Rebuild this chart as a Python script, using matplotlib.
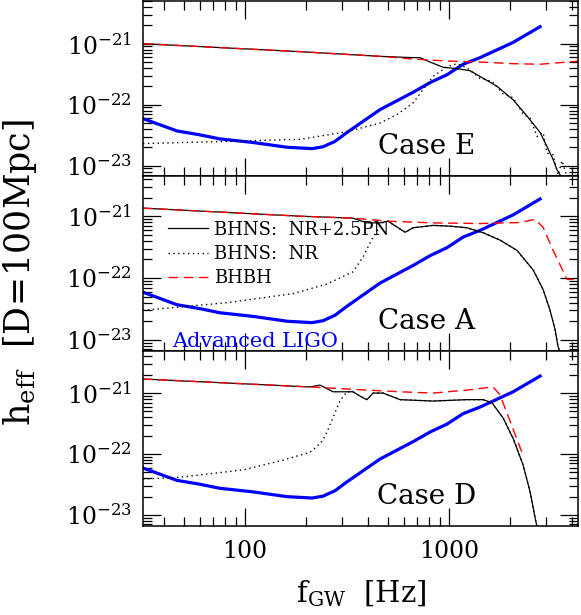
import numpy as np
import matplotlib
matplotlib.use("Agg")
import matplotlib.pyplot as plt
from matplotlib.ticker import LogLocator, FixedLocator, FuncFormatter, NullFormatter

# ==================== DATA ====================

# Advanced LIGO sensitivity, same in every panel
ligo_f = [31.6, 46.4, 60, 75, 109, 161, 213, 241, 276, 316, 459, 667, 807, 977, 1172, 1419, 2061, 2793]
ligo_h = [5.9e-23, 3.7e-23, 3.2e-23, 2.75e-23, 2.4e-23, 2.0e-23, 1.9e-23, 2.04e-23, 2.5e-23, 3.5e-23,
          8.3e-23, 1.6e-22, 2.3e-22, 3.1e-22, 4.6e-22, 5.9e-22, 1.05e-21, 1.9e-21]

# Case E
e_pn_f = [31.6, 186, 459, 667, 721, 807, 935, 1094, 1268, 1419, 1718, 2061, 2411, 2793, 3022, 3236, 3383, 3578]
e_pn_h = [1.0e-21, 7.4e-22, 6.2e-22, 5.9e-22, 5.9e-22, 5.0e-22, 4.1e-22, 3.9e-22, 3.6e-22, 2.9e-22,
          2.0e-22, 1.2e-22, 6.5e-23, 3.5e-23, 2.04e-23, 1.26e-23, 8.5e-24, 6.3e-24]
e_nr_f = [31.6, 186, 316, 459, 556, 667, 746, 835, 977, 1094, 1225, 1419, 1625, 1840, 2061, 2306,
          2495, 2700, 2891, 3022, 3236, 3420, 3578, 3787]
e_nr_h = [2.3e-23, 2.7e-23, 3.6e-23, 5.0e-23, 6.9e-23, 1.07e-22, 1.78e-22, 2.9e-22, 4.2e-22, 4.7e-22,
          4.0e-22, 2.7e-22, 2.4e-22, 1.5e-22, 1.3e-22, 7.0e-23, 6.0e-23, 3.0e-23, 3.5e-23, 1.6e-23,
          1.5e-23, 7.0e-24, 1.2e-23, 6.5e-24]
e_bh_f = [31.6, 186, 459, 667, 807, 977, 1419, 2061, 2793, 4385]
e_bh_h = [1.0e-21, 7.4e-22, 6.2e-22, 5.6e-22, 5.4e-22, 5.2e-22, 5.0e-22, 4.7e-22, 4.6e-22, 5.2e-22]

# Case A
a_pn_f = [31.6, 186, 338, 396, 459, 502, 609, 667, 835, 1012, 1225, 1468, 1778, 2153, 2583, 2891,
          3126, 3311, 3420, 3499]
a_pn_h = [1.35e-21, 1.0e-21, 9.3e-22, 7.8e-22, 7.8e-22, 8.3e-22, 5.5e-22, 6.5e-22, 7.1e-22, 6.9e-22,
          6.5e-22, 5.4e-22, 4.1e-22, 2.8e-22, 1.35e-22, 6.5e-23, 3.0e-23, 1.45e-23, 7.8e-24, 6.3e-24]
a_nr_f = [31.6, 82, 172, 252, 338, 379, 424, 470, 502, 609, 667, 835, 1012, 1225, 1468, 1778, 2153,
          2583, 2891, 3126, 3311, 3420, 3499]
a_nr_h = [3.0e-23, 4.0e-23, 5.6e-23, 8.0e-23, 1.26e-22, 2.2e-22, 4.6e-22, 7.8e-22, 8.3e-22, 5.5e-22,
          6.5e-22, 7.1e-22, 6.9e-22, 6.5e-22, 5.4e-22, 4.1e-22, 2.8e-22, 1.35e-22, 6.5e-23, 3.0e-23,
          1.45e-23, 7.8e-24, 6.3e-24]
a_bh_f = [31.6, 186, 338, 502, 835, 1419, 2228, 2642, 2891, 3236, 3787, 4285]
a_bh_h = [1.35e-21, 1.0e-21, 9.3e-22, 8.3e-22, 7.8e-22, 7.6e-22, 7.9e-22, 8.9e-22, 6.6e-22, 2.8e-22,
          9.5e-23, 9.5e-23]

# Case D
d_pn_f = [31.6, 208, 233, 270, 338, 375, 396, 424, 475, 575, 835, 1225, 1468, 1625, 1840, 2061,
          2306, 2495, 2642, 2700]
d_pn_h = [1.7e-21, 1.26e-21, 1.35e-21, 1.05e-21, 1.05e-21, 8.5e-22, 7.8e-22, 1.0e-21, 1.0e-21,
          7.8e-22, 7.4e-22, 7.8e-22, 7.8e-22, 6.9e-22, 3.9e-22, 1.8e-22, 6.6e-23, 2.4e-23, 8.9e-24, 6.3e-24]
d_nr_f = [31.6, 46, 98, 153, 208, 223, 241, 252, 270, 292, 316, 338, 375, 396, 424, 475, 575, 835,
          1225, 1468, 1625, 1840, 2061, 2306, 2495, 2642, 2700]
d_nr_h = [3.9e-23, 4.1e-23, 5.5e-23, 7.9e-23, 1.07e-22, 1.29e-22, 1.7e-22, 2.3e-22, 4.0e-22, 7.5e-22,
          1.05e-21, 1.05e-21, 8.5e-22, 7.8e-22, 1.0e-21, 1.0e-21, 7.8e-22, 7.4e-22, 7.8e-22, 7.8e-22,
          6.9e-22, 3.9e-22, 1.8e-22, 6.6e-23, 2.4e-23, 8.9e-24, 6.3e-24]
d_bh_f = [31.6, 208, 396, 575, 835, 1225, 1644, 1778, 2306]
d_bh_h = [1.7e-21, 1.26e-21, 1.12e-21, 1.05e-21, 1.0e-21, 1.12e-21, 1.26e-21, 9.3e-22, 9.5e-23]

case_names = ["Case E", "Case A", "Case D"]
legend_labels = ["BHNS:  NR+2.5PN", "BHNS:  NR", "BHBH"]
y_major = [1e-23, 1e-22, 1e-21]
x_major = [100, 1000]

# ==================== STYLE ====================

plt.rcParams['font.family'] = ['DejaVu Serif']
plt.rcParams['mathtext.fontset'] = 'dejavuserif'

XLIM = (31.6, 4285)
YLIMS = [(10**-23.17, 10**-20.30), (10**-23.18, 10**-20.35), (10**-23.18, 10**-20.31)]
BLUE = '#0000ff'


def style_axis(ax, ylim, show_xlabels):
    ax.set_xscale('log')
    ax.set_yscale('log')
    ax.set_xlim(*XLIM)
    ax.set_ylim(*ylim)
    for sp in ax.spines.values():
        sp.set_linewidth(1.1)
    ax.tick_params(which='both', direction='in', top=True, right=True, width=0.9)
    ax.tick_params(which='major', length=13, labelsize=17, pad=8)
    ax.tick_params(which='minor', length=6.5)
    ax.xaxis.set_major_locator(FixedLocator(x_major))
    ax.xaxis.set_minor_locator(LogLocator(base=10, subs=np.arange(2, 10), numticks=20))
    ax.yaxis.set_major_locator(FixedLocator(y_major))
    ax.yaxis.set_minor_locator(LogLocator(base=10, subs=np.arange(2, 10), numticks=20))
    ax.yaxis.set_major_formatter(FuncFormatter(lambda v, p: r'$10^{%d}$' % round(np.log10(v))))
    ax.yaxis.set_minor_formatter(NullFormatter())
    ax.xaxis.set_minor_formatter(NullFormatter())
    if show_xlabels:
        ax.xaxis.set_major_formatter(FuncFormatter(lambda v, p: '%d' % round(v)))
        ax.tick_params(axis='x', which='major', pad=10)
    else:
        ax.xaxis.set_major_formatter(NullFormatter())


# ==================== PLOT ====================

W, H = 581, 615
fig = plt.figure(figsize=(W / 100, H / 100), dpi=100)

left = 143 / W
width = 435 / W
panel_px = [(1, 176), (176, 351), (351, 526)]

panels = [
    (e_pn_f, e_pn_h, e_nr_f, e_nr_h, e_bh_f, e_bh_h),
    (a_pn_f, a_pn_h, a_nr_f, a_nr_h, a_bh_f, a_bh_h),
    (d_pn_f, d_pn_h, d_nr_f, d_nr_h, d_bh_f, d_bh_h),
]

for i, (top_px, bot_px) in enumerate(panel_px):
    ax = fig.add_axes([left, 1 - bot_px / H, width, (bot_px - top_px) / H])
    pn_f, pn_h, nr_f, nr_h, bh_f, bh_h = panels[i]

    ax.plot(ligo_f, ligo_h, color=BLUE, lw=2.3, solid_joinstyle='round')
    l1, = ax.plot(pn_f, pn_h, color='black', lw=0.9)
    l2, = ax.plot(nr_f, nr_h, color='black', lw=1.0, linestyle=(0, (1, 2.5)))
    l3, = ax.plot(bh_f, bh_h, color='#ff0000', lw=1.0, linestyle=(0, (7, 4)))

    style_axis(ax, YLIMS[i], show_xlabels=(i == 2))
    ax.text(0.653, 0.17, case_names[i], transform=ax.transAxes, fontsize=20,
            ha='center', va='center')

    if i == 1:
        ax.legend([l1, l2, l3], legend_labels, loc='upper left',
                  bbox_to_anchor=(0.058, 0.745), frameon=False, fontsize=13,
                  handlelength=2.2, handletextpad=0.35, labelspacing=0.35,
                  borderpad=0, borderaxespad=0)
        ax.text(0.068, 0.055, 'Advanced LIGO', transform=ax.transAxes, color=BLUE,
                fontsize=15, ha='left', va='center')

fig.text(361 / W, 1 - 594 / H, r'$\mathrm{f_{GW}}\ \ [\mathrm{Hz}]$', fontsize=21,
         ha='center', va='center')
fig.text(20 / W, 1 - 273 / H, r'$\mathrm{h_{eff}}\ \ [\mathrm{D\!=\!100Mpc}]$', fontsize=25,
         ha='center', va='center', rotation=90)

fig.savefig('out.png', dpi=100)
